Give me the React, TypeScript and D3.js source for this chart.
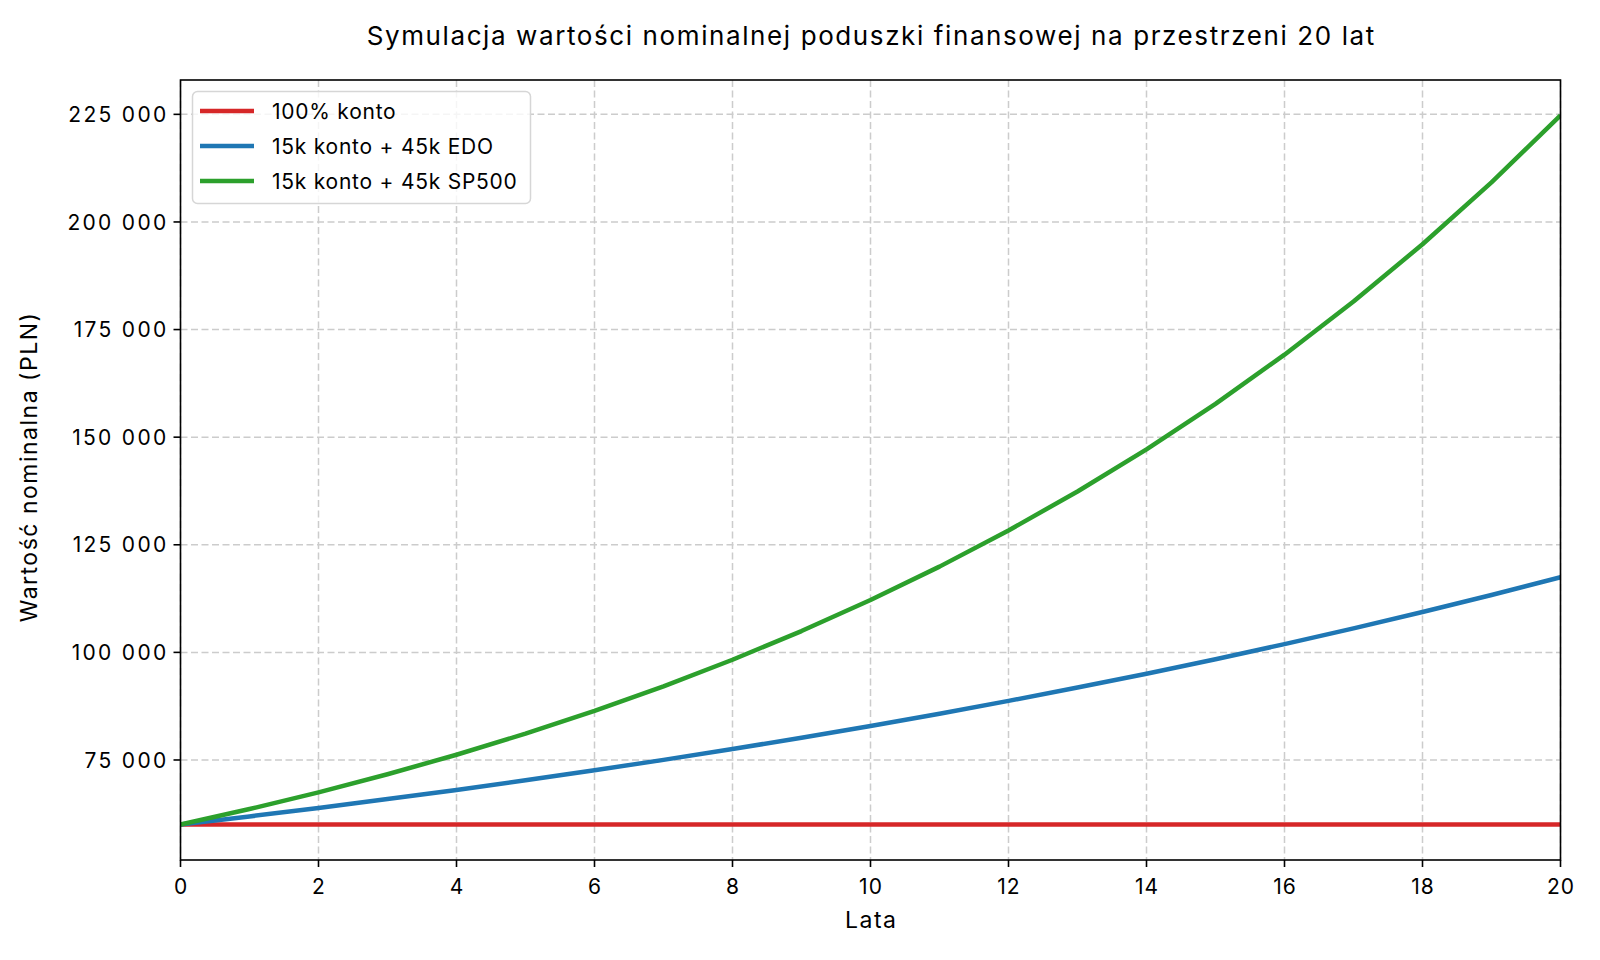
import React from "react";
import * as d3 from "d3";

const years = d3.range(0, 21);
const kontoValues = [60000, 60000, 60000, 60000, 60000, 60000, 60000, 60000, 60000, 60000, 60000, 60000, 60000, 60000, 60000, 60000, 60000, 60000, 60000, 60000, 60000];
const edoValues = [60000, 61890, 63859, 65911, 68050, 70278, 72600, 75019, 77539, 80166, 82903, 85755, 88727, 91823, 95050, 98412, 101915, 105566, 109370, 113333, 117463];
const sp500Values = [60000, 63600, 67488, 71687, 76222, 81120, 86409, 92122, 98292, 104955, 112152, 119924, 128318, 137383, 147174, 157748, 169168, 181501, 194821, 209207, 224743];
const seriesNames = ["100% konto", "15k konto + 45k EDO", "15k konto + 45k SP500"];
const seriesColors = ["#d62728", "#1f77b4", "#2ca02c"];
const xTicks = [0, 2, 4, 6, 8, 10, 12, 14, 16, 18, 20];
const yTicks = [75000, 100000, 125000, 150000, 175000, 200000, 225000];

const W = 1600, H = 960;
const L = 180.5, R = 1560.5, T = 80, B = 860;
const FONT = "Inter, 'Open Sans', sans-serif";

export default function App() {
  const allSeries = [kontoValues, edoValues, sp500Values];
  const x = d3.scaleLinear().domain([0, 20]).range([L, R]);
  const minV = d3.min(allSeries.flat())!;
  const maxV = d3.max(allSeries.flat())!;
  const pad = (maxV - minV) * 0.05;
  const y = d3.scaleLinear().domain([minV - pad, maxV + pad]).range([B, T]);
  const line = d3.line<number>().x((_, i) => x(years[i])).y((d) => y(d));
  const fmt = (v: number) => d3.format(",")(v).replace(/,/g, " ");

  return (
    <svg width={W} height={H} style={{ position: "absolute", left: 0, top: 0, background: "#fff" }} fontFamily={FONT}>
      <rect x={0} y={0} width={W} height={H} fill="#fff" />
      <text x={(L + R) / 2 + 0.8} y={44.5} textAnchor="middle" fontSize={26} letterSpacing={1.6} fill="#000">
        Symulacja wartości nominalnej poduszki finansowej na przestrzeni 20 lat
      </text>
      {/* grid */}
      <g stroke="#cccccc" strokeWidth={1.5} strokeDasharray="7,3.5">
        {xTicks.map((t) => (
          <line key={"gx" + t} x1={x(t)} x2={x(t)} y1={T} y2={B} />
        ))}
        {yTicks.map((t) => (
          <line key={"gy" + t} x1={L} x2={R} y1={y(t)} y2={y(t)} />
        ))}
      </g>
      <defs>
        <clipPath id="plotclip">
          <rect x={L} y={T} width={R - L} height={B - T} />
        </clipPath>
      </defs>
      <g clipPath="url(#plotclip)" fill="none" strokeWidth={4.5} strokeLinejoin="round" strokeLinecap="butt">
        {allSeries.map((s, i) => (
          <path key={i} d={line(s)!} stroke={seriesColors[i]} />
        ))}
      </g>
      {/* frame */}
      <rect x={L} y={T} width={R - L} height={B - T} fill="none" stroke="#000" strokeWidth={1.6} />
      {/* ticks */}
      <g fontSize={21} fill="#000">
        {xTicks.map((t) => (
          <g key={"xt" + t}>
            <line x1={x(t)} x2={x(t)} y1={B} y2={B + 7} stroke="#000" strokeWidth={1.6} />
            <text x={x(t) + 0.5} y={893.5} textAnchor="middle" letterSpacing={1}>{t}</text>
          </g>
        ))}
        {yTicks.map((t) => (
          <g key={"yt" + t}>
            <line x1={L - 7} x2={L} y1={y(t)} y2={y(t)} stroke="#000" strokeWidth={1.6} />
            <text x={L - 12} y={y(t) + 7.6} textAnchor="end" letterSpacing={2.3}>{fmt(t)}</text>
          </g>
        ))}
      </g>
      <text x={(L + R) / 2 + 0.75} y={928.3} textAnchor="middle" fontSize={23} letterSpacing={1.5} fill="#000">Lata</text>
      <text transform={`translate(37, 467) rotate(-90)`} textAnchor="middle" fontSize={23} letterSpacing={1.5} fill="#000">
        Wartość nominalna (PLN)
      </text>
      {/* legend */}
      <rect x={192.5} y={91.5} width={338} height={112} rx={5} fill="#fff" fillOpacity={0.8} stroke="#d6d6d6" strokeWidth={1.5} />
      {seriesNames.map((n, i) => (
        <g key={n}>
          <line x1={200} x2={254} y1={111 + i * 35} y2={111 + i * 35} stroke={seriesColors[i]} strokeWidth={4.5} />
          <text x={272} y={111 + i * 35} dy="0.36em" fontSize={21} letterSpacing={0.76} fill="#000">{n}</text>
        </g>
      ))}
    </svg>
  );
}
